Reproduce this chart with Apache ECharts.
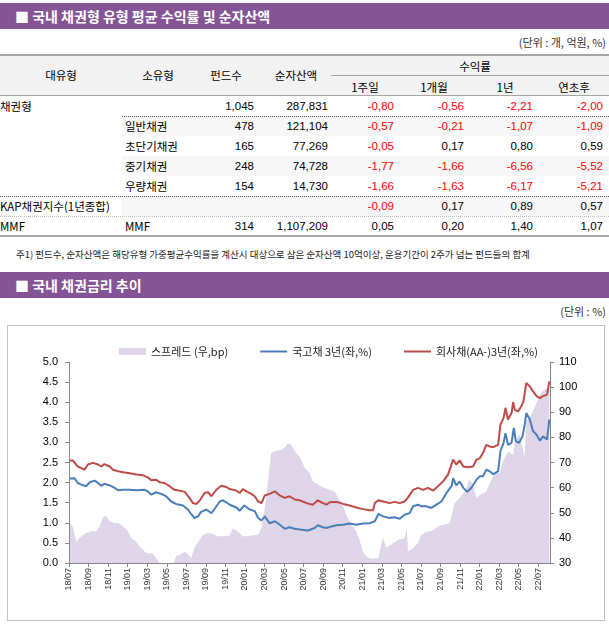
<!DOCTYPE html>
<html><head><meta charset="utf-8">
<script src="https://cdn.jsdelivr.net/npm/echarts@6/dist/echarts.min.js"></script>
<style>
body{margin:0;width:609px;height:625px;position:relative;background:#fff;font-family:'Liberation Sans','Noto Sans CJK KR',sans-serif;overflow:hidden;color:#000}
.abs{position:absolute;white-space:nowrap}
.bar{position:absolute;left:0;width:609px;height:26px;background:#845496;color:#fff;font-weight:bold;font-size:14px;line-height:26px;font-family:'Noto Sans CJK KR',sans-serif}
.unit{position:absolute;right:3px;font-size:11px;color:#333;font-family:'Noto Sans CJK KR',sans-serif}
.hline{position:absolute;height:0}
.cell{position:absolute;height:20px;line-height:20px;font-size:11.5px;white-space:nowrap}
#chart{position:absolute;left:7px;top:325px;width:598px;height:296px;border:1px solid #bfbfbf;box-sizing:border-box}
</style></head>
<body>
<div class="bar" style="top:3px"><span style="padding-left:15px">■ 국내 채권형 유형 평균 수익률 및 순자산액</span></div>
<div class="unit" style="top:34px">(단위 : 개, 억원, %)</div>
<div id="table"></div>
<div class="abs" style="left:16px;top:247px;font-size:9.5px;font-family:'Noto Sans CJK KR',sans-serif;color:#222">주1) 펀드수, 순자산액은 해당유형 가중평균수익률을 계산시 대상으로 삼은 순자산액 10억이상, 운용기간이 2주가 넘는 펀드들의 합계</div>
<div class="bar" style="top:272px"><span style="padding-left:15px">■ 국내 채권금리 추이</span></div>
<div class="unit" style="top:303px">(단위 : %)</div>
<div id="chart"></div>
<script>
// ---------- table data ----------
const headerCols = ['대유형','소유형','펀드수','순자산액'];
const returnHeader = '수익률';
const returnCols = ['1주일','1개월','1년','연초후'];
const tableRows = [
  ['채권형','','1,045','287,831','-0,80','-0,56','-2,21','-2,00'],
  ['','일반채권','478','121,104','-0,57','-0,21','-1,07','-1,09'],
  ['','초단기채권','165','77,269','-0,05','0,17','0,80','0,59'],
  ['','중기채권','248','74,728','-1,77','-1,66','-6,56','-5,52'],
  ['','우량채권','154','14,730','-1,66','-1,63','-6,17','-5,21'],
  ['KAP채권지수(1년종합)','','','','-0,09','0,17','0,89','0,57'],
  ['MMF','MMF','314','1,107,209','0,05','0,20','1,40','1,07']
];

// ---------- chart data ----------
const tickLabels = ['18/07','18/09','18/11','19/01','19/03','19/05','19/07','19/09','19/11','20/01','20/03','20/05','20/07','20/09','20/11','21/01','21/03','21/05','21/07','21/09','21/11','22/01','22/03','22/05','22/07'];
const seriesNames = ['스프레드 (우,bp)','국고채 3년(좌,%)','회사채(AA-)3년(좌,%)'];

const govDates = ['2018-07-03','2018-07-18','2018-07-29','2018-08-09','2018-08-24','2018-09-05','2018-09-20','2018-09-30','2018-10-10','2018-10-20','2018-11-06','2018-11-21','2018-12-02','2018-12-17','2019-01-07','2019-01-28','2019-02-22','2019-03-03','2019-03-14','2019-03-29','2019-04-14','2019-04-29','2019-05-15','2019-05-30','2019-06-21','2019-07-06','2019-07-16','2019-07-27','2019-08-07','2019-08-17','2019-09-02','2019-09-18','2019-09-28','2019-10-14','2019-10-24','2019-11-04','2019-11-14','2019-12-05','2019-12-15','2019-12-30','2020-01-16','2020-02-01','2020-02-11','2020-02-21','2020-03-02','2020-03-17','2020-04-03','2020-04-18','2020-05-03','2020-05-18','2020-06-04','2020-06-24','2020-07-15','2020-08-05','2020-08-15','2020-08-31','2020-09-11','2020-09-26','2020-10-12','2020-11-02','2020-11-22','2020-12-13','2021-01-03','2021-01-24','2021-02-09','2021-02-19','2021-03-05','2021-03-25','2021-04-10','2021-04-26','2021-05-11','2021-05-27','2021-06-07','2021-06-22','2021-07-02','2021-07-18','2021-08-03','2021-08-19','2021-09-04','2021-09-19','2021-10-05','2021-10-10','2021-10-20','2021-10-31','2021-11-11','2021-11-23','2021-12-06','2021-12-22','2022-01-02','2022-01-12','2022-01-22','2022-02-02','2022-02-12','2022-02-26','2022-03-05','2022-03-15','2022-03-21','2022-03-29','2022-04-09','2022-04-16','2022-04-22','2022-05-02','2022-05-13','2022-05-20','2022-05-25','2022-06-05','2022-06-15','2022-06-26','2022-07-06','2022-07-16','2022-07-29','2022-08-05'];
const govValues = [2.10,2.11,1.99,1.95,1.91,2.01,2.05,1.99,1.92,1.97,1.93,1.87,1.81,1.82,1.82,1.81,1.82,1.78,1.70,1.76,1.72,1.66,1.53,1.47,1.43,1.33,1.22,1.12,1.16,1.27,1.33,1.24,1.35,1.53,1.56,1.51,1.45,1.38,1.30,1.43,1.33,1.29,1.12,1.06,1.16,0.99,1.04,0.95,0.85,0.89,0.85,0.83,0.81,0.87,0.94,0.89,0.87,0.91,0.94,0.95,0.98,0.95,0.98,0.99,1.04,1.22,1.16,1.12,1.14,1.10,1.20,1.24,1.41,1.45,1.41,1.41,1.37,1.45,1.53,1.74,1.91,2.11,1.93,2.03,1.87,1.77,1.87,2.07,2.16,2.16,2.32,2.28,2.21,2.28,2.78,2.99,3.23,2.94,2.99,3.36,3.03,2.99,3.15,3.44,3.73,3.57,3.28,3.19,3.04,3.15,3.07,3.57];

const corpDates = ['2018-07-03','2018-07-13','2018-07-29','2018-08-09','2018-08-19','2018-08-30','2018-09-15','2018-09-30','2018-10-10','2018-10-20','2018-11-06','2018-11-16','2018-12-02','2018-12-17','2019-01-07','2019-01-28','2019-02-17','2019-03-03','2019-03-14','2019-03-29','2019-04-09','2019-04-24','2019-05-10','2019-05-25','2019-06-11','2019-06-26','2019-07-11','2019-07-22','2019-08-02','2019-08-12','2019-08-28','2019-09-08','2019-09-18','2019-10-03','2019-10-19','2019-11-04','2019-11-14','2019-12-05','2019-12-15','2019-12-25','2020-01-06','2020-01-21','2020-02-01','2020-02-11','2020-02-21','2020-03-02','2020-03-17','2020-04-03','2020-04-18','2020-05-03','2020-05-18','2020-06-04','2020-06-19','2020-07-10','2020-07-30','2020-08-15','2020-08-31','2020-09-11','2020-09-21','2020-10-12','2020-11-02','2020-11-22','2020-12-13','2021-01-03','2021-01-24','2021-02-04','2021-02-09','2021-02-19','2021-03-05','2021-03-25','2021-04-10','2021-04-26','2021-05-11','2021-05-21','2021-06-07','2021-06-22','2021-07-08','2021-07-23','2021-08-09','2021-08-24','2021-09-09','2021-09-24','2021-10-10','2021-10-20','2021-10-31','2021-11-11','2021-11-26','2021-12-11','2021-12-22','2022-01-02','2022-01-12','2022-01-22','2022-02-02','2022-02-12','2022-02-26','2022-03-05','2022-03-15','2022-03-21','2022-03-29','2022-04-09','2022-04-14','2022-04-19','2022-04-29','2022-05-09','2022-05-16','2022-05-25','2022-06-05','2022-06-15','2022-06-26','2022-07-06','2022-07-16','2022-07-29','2022-08-05'];
const corpValues = [2.55,2.55,2.40,2.36,2.32,2.45,2.49,2.45,2.40,2.46,2.40,2.32,2.28,2.26,2.23,2.20,2.18,2.13,2.06,2.07,2.01,1.99,1.91,1.82,1.80,1.77,1.62,1.49,1.47,1.55,1.74,1.76,1.66,1.82,1.92,1.89,1.84,1.80,1.74,1.84,1.78,1.72,1.66,1.53,1.49,1.68,1.72,1.78,1.68,1.62,1.66,1.58,1.56,1.49,1.45,1.56,1.49,1.45,1.51,1.52,1.47,1.43,1.38,1.34,1.31,1.31,1.49,1.56,1.53,1.49,1.52,1.49,1.53,1.62,1.82,1.87,1.82,1.87,1.80,1.91,2.03,2.20,2.57,2.45,2.55,2.40,2.38,2.40,2.57,2.61,2.74,2.94,2.90,2.88,2.94,3.44,3.61,3.86,3.57,3.73,4.00,3.81,3.77,3.90,4.02,4.48,4.39,4.27,4.15,4.10,4.15,4.19,4.52];

const spreadDates = ['2018-07-03','2018-07-13','2018-07-24','2018-07-29','2018-08-09','2018-08-24','2018-09-10','2018-09-25','2018-10-05','2018-10-15','2018-10-26','2018-11-06','2018-11-21','2018-12-02','2018-12-17','2019-01-02','2019-01-12','2019-01-28','2019-02-07','2019-02-26','2019-03-19','2019-04-04','2019-04-09','2019-05-24','2019-05-30','2019-06-16','2019-06-26','2019-07-06','2019-07-16','2019-07-27','2019-08-12','2019-08-22','2019-09-08','2019-09-23','2019-10-08','2019-10-24','2019-11-14','2019-11-24','2019-12-09','2019-12-25','2020-01-06','2020-01-26','2020-02-11','2020-02-21','2020-03-02','2020-03-12','2020-03-22','2020-04-08','2020-04-23','2020-05-03','2020-05-13','2020-05-24','2020-06-04','2020-06-19','2020-07-05','2020-07-20','2020-07-30','2020-08-15','2020-08-31','2020-09-21','2020-10-07','2020-10-17','2020-10-27','2020-11-12','2020-11-27','2020-12-13','2020-12-23','2021-01-03','2021-01-13','2021-01-29','2021-02-19','2021-03-01','2021-03-05','2021-03-15','2021-03-30','2021-04-21','2021-05-11','2021-05-18','2021-05-22','2021-06-07','2021-06-22','2021-07-02','2021-07-18','2021-08-08','2021-08-24','2021-09-14','2021-09-29','2021-10-15','2021-10-31','2021-11-16','2021-11-29','2021-12-09','2021-12-22','2022-01-02','2022-01-22','2022-02-07','2022-02-16','2022-03-03','2022-03-13','2022-03-29','2022-04-14','2022-04-19','2022-05-04','2022-05-20','2022-05-25','2022-06-10','2022-06-26','2022-07-06','2022-07-16','2022-07-26','2022-08-05'];
const spreadValues = [45.9,44.6,38.6,38.2,40.6,41.9,42.6,42.6,44.6,48.2,48.8,46.6,45.9,45.9,44.6,42.6,40.0,38.6,36.6,34.0,33.7,30.9,30,30,32.7,33.6,34.6,33.6,32.0,36.2,39.3,41.0,41.9,41.5,40.6,40.6,40.9,43.9,42.6,40.6,40.6,41.0,41.3,43.9,51.9,62.5,73.8,74.7,75.1,76.0,77.7,77.1,74.4,72.4,67.8,65.8,62.5,61.2,60.1,59.2,58.5,55.9,54.5,49.2,45.3,42.6,39.3,34.6,32.7,31.7,32.0,38.6,39.9,36.2,37.3,39.3,39.9,43.9,34.6,36.0,38.0,41.3,42.3,42.9,44.6,45.3,45.9,53.9,55.9,58.5,63.2,61.8,55.9,57.2,58.5,63.2,65.8,65.8,70.5,74.4,73.1,78.4,81.1,72.4,86.4,89.0,93.7,97.0,98.6,99.6,98.3];

// ---------- build table ----------
(function(){
  const t = document.getElementById('table');
  function add(html){ t.insertAdjacentHTML('beforeend', html); }
  const kr = "font-family:'Noto Sans CJK KR',sans-serif;";
  add('<div class="abs" style="left:0;top:55px;width:609px;height:40px;background:#f2f2f2"></div>');
  add('<div class="hline" style="left:0;top:54px;width:609px;border-top:2px solid #a6a6a6"></div>');
  add('<div class="hline" style="left:0;top:95px;width:609px;border-top:1px solid #a6a6a6"></div>');
  add('<div class="hline" style="left:331px;top:75px;width:278px;border-top:1px solid #a6a6a6"></div>');
  const hdrCenters = [61,158,226,296];
  headerCols.forEach((h,i)=>add('<div class="cell" style="'+kr+'left:'+(hdrCenters[i]-50)+'px;width:100px;text-align:center;top:65px">'+h+'</div>'));
  add('<div class="cell" style="'+kr+'left:425px;width:100px;text-align:center;top:56px">'+returnHeader+'</div>');
  const subCenters = [365,434,505,574];
  returnCols.forEach((h,i)=>add('<div class="cell" style="'+kr+'left:'+(subCenters[i]-50)+'px;width:100px;text-align:center;top:77px">'+h+'</div>'));
  [1,3,5].forEach(r=>add('<div class="abs" style="left:122px;top:'+(96+20*r)+'px;width:487px;height:20px;background:#f7f7f7"></div>'));
  add('<div class="hline" style="left:122px;top:116px;width:487px;border-top:1px dotted #555"></div>');
  add('<div class="hline" style="left:0;top:196px;width:609px;border-top:1px dotted #555"></div>');
  add('<div class="hline" style="left:0;top:216px;width:609px;border-top:1px dotted #bbb"></div>');
  add('<div class="hline" style="left:0;top:235px;width:609px;border-top:2px solid #a6a6a6"></div>');
  const rightEdges = [null,null,254,328,394,464,533,603];
  tableRows.forEach((row,r)=>{
    const top = 96 + 20*r;
    row.forEach((v,c)=>{
      if(v==='') return;
      if(c===0) add('<div class="cell" style="'+kr+'left:0;top:'+top+'px">'+v+'</div>');
      else if(c===1) add('<div class="cell" style="'+kr+'left:125px;top:'+top+'px">'+v+'</div>');
      else {
        const red = v.charAt(0)==='-';
        add('<div class="cell" style="left:'+(rightEdges[c]-90)+'px;width:90px;text-align:right;top:'+top+'px;color:'+(red?'#ff0000':'#000')+'">'+v+'</div>');
      }
    });
  });
})();

// ---------- chart ----------
function monthIndex(s){
  const p = s.split('-').map(Number);
  const dim = new Date(p[0], p[1], 0).getDate();
  return (p[0]-2018)*12 + (p[1]-7) + (p[2]-1)/dim;
}
function pairs(dates, vals){ return dates.map((d,i)=>[monthIndex(d), vals[i]]); }

const chart = echarts.init(document.getElementById('chart'), null, {renderer:'canvas'});
const axisColor = '#868686';
const fontKR = "'Noto Sans CJK KR', sans-serif";
const lineIcon = 'path://M0,0 L27,0 L27,2 L0,2 Z';
chart.setOption({
  animation:false,
  textStyle:{fontFamily:"'Liberation Sans','Noto Sans CJK KR',sans-serif"},
  legend:{
    left:106, top:15, itemWidth:27, itemHeight:7, itemGap:32,
    textStyle:{fontSize:11, color:'#222', fontFamily:fontKR},
    data:[
      {name:seriesNames[0], icon:'rect', itemStyle:{color:'#dfd5e8'}},
      {name:seriesNames[1], icon:lineIcon, itemStyle:{color:'#4a7ebb'}},
      {name:seriesNames[2], icon:lineIcon, itemStyle:{color:'#be4b48'}}
    ]
  },
  grid:{left:61, right:54, top:36, bottom:57},
  xAxis:{
    type:'value', min:0, max:49.2, interval:2, z:5,
    axisLine:{lineStyle:{color:axisColor}},
    axisTick:{length:4, lineStyle:{color:axisColor}},
    splitLine:{show:false},
    axisLabel:{rotate:90, fontSize:9, color:'#333', margin:5, showMaxLabel:false,
      formatter:function(v){ const k = Math.round(v/2); return (Math.abs(v-2*k)<1e-6 && k<tickLabels.length) ? tickLabels[k] : ''; }}
  },
  yAxis:[
    {type:'value', min:0, max:5, interval:0.5, position:'left', z:5,
     axisLine:{show:true, lineStyle:{color:axisColor}},
     axisTick:{show:true, length:4, lineStyle:{color:axisColor}},
     splitLine:{show:false},
     axisLabel:{fontSize:11, color:'#000', margin:11, formatter:function(v){return v.toFixed(1);}}},
    {type:'value', min:30, max:110, interval:10, position:'right', z:5,
     axisLine:{show:true, lineStyle:{color:axisColor}},
     axisTick:{show:true, length:4, lineStyle:{color:axisColor}},
     splitLine:{show:false},
     axisLabel:{fontSize:11, color:'#000', margin:9}}
  ],
  series:[
    {name:seriesNames[0], type:'line', yAxisIndex:1, symbol:'none', data:pairs(spreadDates, spreadValues),
     lineStyle:{width:0, color:'#dfd5e8'}, itemStyle:{color:'#dfd5e8'}, areaStyle:{color:'#dfd5e8', opacity:1}, z:1},
    {name:seriesNames[1], type:'line', yAxisIndex:0, symbol:'none', data:pairs(govDates, govValues),
     lineStyle:{width:2, color:'#4a7ebb'}, itemStyle:{color:'#4a7ebb'}, z:2},
    {name:seriesNames[2], type:'line', yAxisIndex:0, symbol:'none', data:pairs(corpDates, corpValues),
     lineStyle:{width:2, color:'#be4b48'}, itemStyle:{color:'#be4b48'}, z:3}
  ]
});
</script>
</body></html>
